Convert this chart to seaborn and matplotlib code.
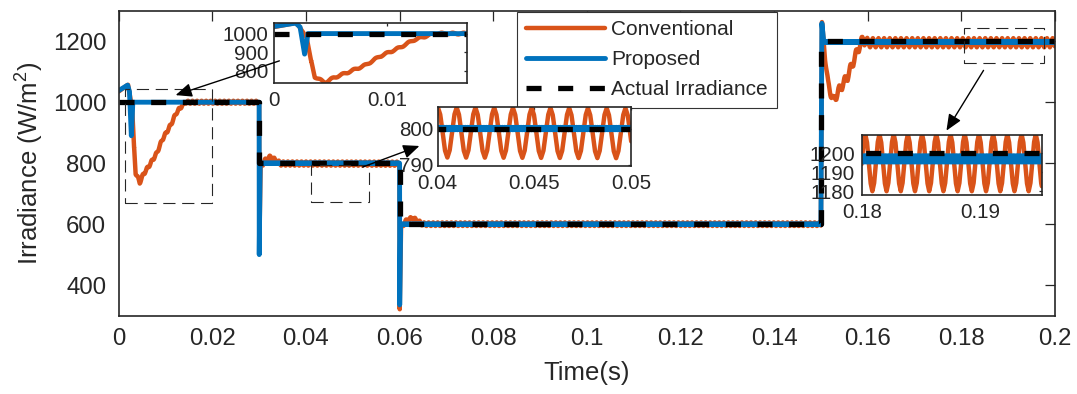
import numpy as np
import matplotlib
matplotlib.use('Agg')
import matplotlib.pyplot as plt
import seaborn as sns
from matplotlib.patches import Rectangle, FancyArrowPatch

# ---- data ----
# actual irradiance (step profile)
ACT_T = [0, 0.03, 0.03, 0.06, 0.06, 0.15, 0.15, 0.2]
ACT_V = [1000, 1000, 800, 800, 600, 600, 1200, 1200]

# proposed method, key points of the trajectory
PROP_T = [0, 0.0019, 0.0023, 0.0027, 0.0030, 0.0300, 0.03002, 0.0302,
          0.0600, 0.06002, 0.0602, 0.1500, 0.15020, 0.1506, 0.2]
PROP_V = [1038, 1056, 1035, 890, 1000, 1000, 500, 800,
          800, 335, 600, 600, 1260, 1197, 1197]

# conventional method, key points of the trajectory
CONV_T = [0, 0.0018, 0.0020, 0.00288, 0.0032, 0.0036, 0.0045, 0.00525, 0.0067,
          0.0081, 0.0093, 0.0111, 0.0123, 0.0141, 0.0300,
          0.03003, 0.0303, 0.0315, 0.0325, 0.0335, 0.0345, 0.0600,
          0.06003, 0.0603, 0.0615, 0.0628, 0.0640, 0.0650, 0.1500,
          0.15022, 0.1507, 0.1515, 0.1527, 0.1535, 0.1557, 0.1579, 0.1589, 0.1600, 0.2]
CONV_V = [1035, 1056, 1057, 979, 874, 769, 737, 763, 797,
          832, 877, 925, 965, 1000, 1000,
          520, 790, 812, 820, 808, 799, 798.5,
          325, 590, 612, 620, 608, 600, 600,
          1250, 1180, 1060, 1003, 1030, 1085, 1173, 1205, 1195, 1195]

# steady-state ripple (per segment)
SEG_START = [0.0, 0.0033, 0.03, 0.06, 0.15]
CONV_RIP_AMP = [0, 5, 6.9, 6, 15]
CONV_RIP_PERIOD = [0.00097, 0.00097, 0.00097, 0.00097, 0.0012]
PROP_RIP_AMP = [0, 0.3, 0.35, 0.3, 1.6]
PROP_RIP_PERIOD = [0.00012, 0.00012, 0.00012, 0.00012, 0.00012]
RIP_SHAPE = [0, 0.71, 1, 0.71, 0, -0.71, -1, -0.71, 0]

X_TICKS = [0, 0.02, 0.04, 0.06, 0.08, 0.1, 0.12, 0.14, 0.16, 0.18, 0.2]
X_LABELS = ['0', '0.02', '0.04', '0.06', '0.08', '0.1', '0.12', '0.14', '0.16', '0.18', '0.2']
Y_TICKS = [400, 600, 800, 1000, 1200]

C_CONV = '#D95319'
C_PROP = '#0072BD'
C_ACT = '#000000'
C_EIXO = '#262626'

# ---- series ----
t = np.union1d(np.arange(0, 0.2 + 1e-9, 1e-5), CONV_T + PROP_T)
seg = np.searchsorted(SEG_START, t, side='right') - 1
fase_x = np.linspace(0, 1, len(RIP_SHAPE))


def ripple(amp, periodo):
    fase = (t / np.array(periodo)[seg]) % 1
    return np.array(amp)[seg] * np.interp(fase, fase_x, RIP_SHAPE)


conv = np.interp(t, CONV_T, CONV_V) + ripple(CONV_RIP_AMP, CONV_RIP_PERIOD)
prop = np.interp(t, PROP_T, PROP_V) + ripple(PROP_RIP_AMP, PROP_RIP_PERIOD)

sns.set_style('white')
plt.rcParams['font.family'] = ['Liberation Sans', 'DejaVu Sans']
plt.rcParams['mathtext.fontset'] = 'custom'
plt.rcParams['mathtext.rm'] = 'Liberation Sans'
plt.rcParams['mathtext.it'] = 'Liberation Sans:italic'


def desenha(ax, label=True):
    sns.lineplot(x=t, y=conv, ax=ax, color=C_CONV, lw=3.2, estimator=None, sort=False,
                 label='Conventional' if label else None, legend=False)
    sns.lineplot(x=t, y=prop, ax=ax, color=C_PROP, lw=3.5, estimator=None, sort=False,
                 label='Proposed' if label else None, legend=False)
    sns.lineplot(x=ACT_T, y=ACT_V, ax=ax, color=C_ACT, lw=3.8, estimator=None, sort=False,
                 linestyle=(0, (2.85, 3.15)), label='Actual Irradiance' if label else None,
                 legend=False)


def estilo(ax, tam, comp, pad):
    for s in ax.spines.values():
        s.set_visible(True)
        s.set_color(C_EIXO)
        s.set_linewidth(1.2)
    ax.tick_params(direction='in', top=True, right=True, length=comp, width=0.9,
                   colors=C_EIXO, labelsize=tam, pad=pad)
    ax.set_xlabel('')
    ax.set_ylabel('')


W, H = 1077, 394
fig = plt.figure(figsize=(W / 100, H / 100), dpi=100)
ax = fig.add_axes([118.7 / W, 1 - 315.7 / H, (1055 - 118.7) / W, (315.7 - 10.7) / H])
desenha(ax)
ax.set_xlim(0, 0.2)
ax.set_ylim(300, 1300)
ax.set_xticks(X_TICKS)
ax.set_xticklabels(X_LABELS)
ax.set_yticks(Y_TICKS)
estilo(ax, 17.3, 7, 9)

fig.text(30 / W, 1 - 163 / H, 'Irradiance (W/m$^{2}$)', rotation=90, ha='center', va='center',
         fontsize=18.5, color=C_EIXO)
fig.text(587 / W, 1 - 373 / H, 'Time(s)', ha='center', va='center', fontsize=18.5, color=C_EIXO)

leg = ax.legend(handles=ax.lines[:3], labels=['Conventional', 'Proposed', 'Actual Irradiance'],
                loc='upper left', bbox_to_anchor=(517 / W, 1 - 11.7 / H),
                bbox_transform=fig.transFigure, fontsize=15, handlelength=3.8,
                handletextpad=0.3, labelspacing=0.52, borderpad=0.42, borderaxespad=0,
                fancybox=False, framealpha=1, edgecolor='#333333')
leg.get_frame().set_linewidth(0.8)
for txt in leg.get_texts():
    txt.set_color(C_EIXO)

# dashed zoom boxes on the main axes
caixas = [(0.00134, 670, 0.01985, 1044), (0.0410, 674, 0.0534, 793.6), (0.1806, 1129, 0.1977, 1244)]
for x0, y0, x1, y1 in caixas:
    ax.add_patch(Rectangle((x0, y0), x1 - x0, y1 - y0, fill=False, ec=C_EIXO, lw=0.8,
                           ls=(0, (11, 6)), clip_on=False, zorder=5))

# insets
insets = [
    ((274, 23.3, 466.7, 82.7), (0, 0.017), (737, 1055), [0, 0.01], ['0', '0.01'],
     [800, 900, 1000], 4),
    ((437.7, 106.7, 631, 166), (0.04, 0.05), (789.7, 806), [0.04, 0.045, 0.05],
     ['0.04', '0.045', '0.05'], [790, 800], 3),
    ((861.7, 135, 1041.7, 195), (0.18, 0.1952), (1178, 1209.6), [0.18, 0.19], ['0.18', '0.19'],
     [1180, 1190, 1200], 5),
]
for (l, tp, r, b), xl, yl, xt, xtl, yt, ypad in insets:
    axi = fig.add_axes([l / W, 1 - b / H, (r - l) / W, (b - tp) / H])
    axi.set_facecolor('white')
    desenha(axi, label=False)
    axi.set_xlim(*xl)
    axi.set_ylim(*yl)
    axi.set_xticks(xt)
    axi.set_xticklabels(xtl)
    axi.set_yticks(yt)
    estilo(axi, 14.8, 2.5, 4)
    axi.tick_params(axis='y', pad=ypad)
    axi.tick_params(axis='x', pad=6)

# arrows from boxes to insets (figure pixels)
setas = [((282, 60), (173, 96)), ((360, 168), (422, 145)), ((985, 68), (945, 133))]
for (xa, ya), (xb, yb) in setas:
    fig.add_artist(FancyArrowPatch((xa / W, 1 - ya / H), (xb / W, 1 - yb / H),
                                   transform=fig.transFigure,
                                   arrowstyle='-|>,head_length=0.7,head_width=0.3',
                                   mutation_scale=14, lw=1.0, color='black', zorder=6))

fig.savefig('out.png', dpi=100, facecolor='white')
